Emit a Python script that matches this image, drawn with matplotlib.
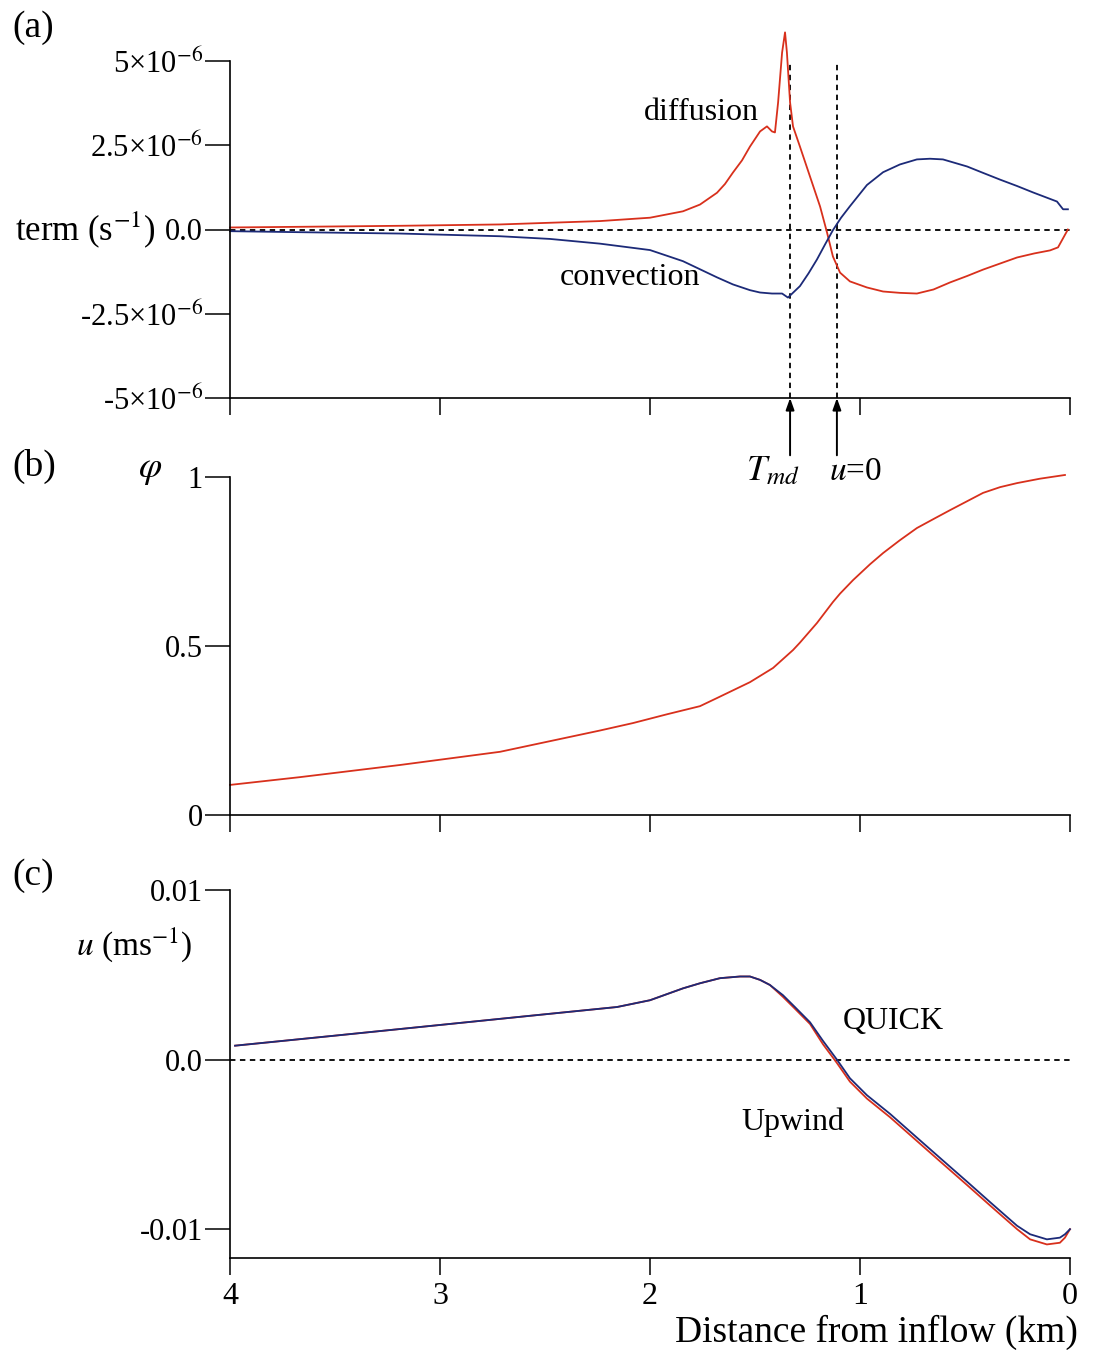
import matplotlib
matplotlib.use("Agg")
import matplotlib.pyplot as plt

plt.rcParams['font.family'] = ['Liberation Serif', 'DejaVu Serif']
plt.rcParams['mathtext.fontset'] = 'stix'
plt.rcParams['axes.unicode_minus'] = False

RED = '#d8301c'
BLUE = '#1c2a78'

# (a) source terms along the channel, units of 1e-6 s^-1
term_km = [4.0, 3.667, 3.19, 2.714, 2.238, 2.0, 1.843, 1.762, 1.681, 1.643, 1.605,
           1.562, 1.524, 1.476, 1.443, 1.419, 1.405, 1.39, 1.371, 1.357, 1.348,
           1.333, 1.319, 1.286, 1.238, 1.19, 1.157, 1.129, 1.095, 1.048, 0.967,
           0.89, 0.81, 0.729, 0.65, 0.571, 0.49, 0.414, 0.333, 0.252, 0.17,
           0.095, 0.057, 0.01]
diffusion = [0.06, 0.08, 0.11, 0.15, 0.25, 0.35, 0.54, 0.74, 1.09, 1.35, 1.69,
             2.05, 2.46, 2.91, 3.06, 2.91, 2.88, 3.77, 5.25, 5.85, 5.25,
             3.77, 3.06, 2.46, 1.57, 0.68, -0.09, -0.8, -1.28, -1.54, -1.72,
             -1.84, -1.88, -1.9, -1.78, -1.57, -1.38, -1.19, -1.01, -0.83, -0.71,
             -0.62, -0.53, 0.0]

conv_km = [4.0, 3.667, 3.19, 2.714, 2.476, 2.238, 2.0, 1.919, 1.843, 1.762, 1.681,
           1.605, 1.524, 1.476, 1.419, 1.371, 1.343, 1.286, 1.245, 1.205, 1.167,
           1.129, 1.09, 1.048, 0.967, 0.89, 0.81, 0.729, 0.667, 0.605, 0.49,
           0.414, 0.333, 0.252, 0.176, 0.062, 0.033, 0.01]
convection = [-0.05, -0.08, -0.12, -0.2, -0.28, -0.42, -0.61, -0.78, -0.94, -1.18, -1.42,
              -1.63, -1.8, -1.87, -1.9, -1.9, -2.02, -1.68, -1.3, -0.89, -0.45,
              -0.02, 0.35, 0.69, 1.32, 1.7, 1.93, 2.08, 2.1, 2.08, 1.87,
              1.68, 1.48, 1.29, 1.1, 0.83, 0.6, 0.6]

x_tmd = 1.333
x_u0 = 1.110

# (b) phi
phi_km = [4.0, 3.667, 3.19, 2.714, 2.238, 2.081, 1.919, 1.762, 1.681, 1.524, 1.414,
          1.319, 1.286, 1.205, 1.129, 1.095, 1.033, 0.952, 0.89, 0.81, 0.729,
          0.643, 0.571, 0.414, 0.333, 0.252, 0.143, 0.024]
phi = [0.089, 0.112, 0.148, 0.187, 0.25, 0.272, 0.298, 0.322, 0.346, 0.393, 0.435,
       0.488, 0.51, 0.568, 0.63, 0.655, 0.695, 0.742, 0.775, 0.813, 0.849,
       0.878, 0.902, 0.953, 0.97, 0.982, 0.995, 1.006]

# (c) velocity, two advection schemes
u_km = [3.976, 3.51, 3.033, 2.557, 2.157, 2.0, 1.843, 1.762, 1.667, 1.571, 1.524,
        1.476, 1.429, 1.367, 1.31, 1.238, 1.176, 1.11, 1.048, 0.967, 0.857,
        0.729, 0.619, 0.49, 0.381, 0.252, 0.19, 0.11, 0.048, 0.024, 0.0]
u_quick = [0.00082, 0.0014, 0.002, 0.0026, 0.0031, 0.0035, 0.0042, 0.0045, 0.0048,
           0.0049, 0.0049, 0.0047, 0.0044, 0.0038, 0.0031, 0.0022, 0.0011, 0.0,
           -0.0011, -0.0021, -0.0032, -0.0046, -0.0058, -0.0072, -0.0084, -0.0098,
           -0.0103, -0.0106, -0.0105, -0.0103, -0.0100]
u_upwind = [0.00082, 0.0014, 0.002, 0.0026, 0.0031, 0.0035, 0.0042, 0.0045, 0.0048,
            0.0049, 0.0049, 0.0047, 0.0044, 0.0037, 0.003, 0.0021, 0.0009, -0.0002,
            -0.0013, -0.0023, -0.0034, -0.0048, -0.006, -0.0074, -0.0086, -0.0100,
            -0.0106, -0.0109, -0.0108, -0.0105, -0.0100]

x_ticks = [4, 3, 2, 1, 0]
x_ticklabels = ['4', '3', '2', '1', '0']
a_ticks = [5e-6, 2.5e-6, 0, -2.5e-6, -5e-6]
a_ticklabels = [r'5×10$^{-6}$', r'2.5×10$^{-6}$', '0.0', r'-2.5×10$^{-6}$', r'-5×10$^{-6}$']
b_ticks = [0, 0.5, 1]
b_ticklabels = ['0', '0.5', '1']
c_ticks = [0.01, 0, -0.01]
c_ticklabels = ['0.01', '0.0', '-0.01']

W, H = 1094, 1350
fig = plt.figure(figsize=(W / 100, H / 100), dpi=100)


def px_axes(top, bottom, left=230, right=1070):
    return fig.add_axes([left / W, 1 - bottom / H, (right - left) / W, (bottom - top) / H])


def style(ax, show_xlabels=False):
    for s in ('top', 'right'):
        ax.spines[s].set_visible(False)
    for s in ('left', 'bottom'):
        ax.spines[s].set_linewidth(1.2)
    ax.set_xlim(4, 0)
    ax.set_xticks(x_ticks)
    ax.set_xticklabels(x_ticklabels if show_xlabels else [])
    ax.tick_params(axis='x', direction='out', length=12, width=1.1, labelsize=23, pad=5)
    ax.tick_params(axis='y', direction='out', length=18, width=1.1, labelsize=22, pad=1.5)
    ax.patch.set_alpha(0)


dash = dict(color='k', lw=1.3, ls=(0, (3, 2.5)))

# panel (a)
ax1 = px_axes(61, 398)
style(ax1)
ax1.set_ylim(-5e-6, 5e-6)
ax1.set_yticks(a_ticks)
ax1.set_yticklabels(a_ticklabels)
ax1.axhline(0, **dash)
ax1.plot([x_tmd, x_tmd], [-5e-6, 4.95e-6], **dash)
ax1.plot([x_u0, x_u0], [-5e-6, 4.95e-6], **dash)
ax1.plot(term_km, [v * 1e-6 for v in diffusion], color=RED, lw=1.3, clip_on=False)
ax1.plot(conv_km, [v * 1e-6 for v in convection], color=BLUE, lw=1.3, clip_on=False)
ax1.text(1.757, 3.26e-6, 'diffusion', fontsize=23, ha='center', va='baseline')
ax1.text(2.095, -1.66e-6, 'convection', fontsize=23, ha='center', va='baseline')
for xv in (x_tmd, x_u0):
    ax1.annotate('', xy=(xv, -5e-6), xytext=(xv, -6.7e-6),
                 arrowprops=dict(arrowstyle='-|>,head_length=0.7,head_width=0.25',
                                 color='k', lw=1.4, shrinkA=0, shrinkB=0),
                 annotation_clip=False)
ax1.text(1.414, -7.2e-6, r'$T_{md}$', fontsize=26, ha='center', va='center')
ax1.text(1.024, -7.2e-6, r'$u$=0', fontsize=24, ha='center', va='center')

# panel (b)
ax2 = px_axes(477, 815)
style(ax2)
ax2.set_ylim(0, 1)
ax2.set_yticks(b_ticks)
ax2.set_yticklabels(b_ticklabels)
ax2.plot(phi_km, phi, color=RED, lw=1.3, clip_on=False)

# panel (c)
ax3 = px_axes(890, 1258)
style(ax3, show_xlabels=True)
ax3.set_ylim(-0.0117, 0.01)
ax3.set_yticks(c_ticks)
ax3.set_yticklabels(c_ticklabels)
ax3.plot([4, 0], [0, 0], **dash)
ax3.plot(u_km, u_upwind, color=RED, lw=1.3, clip_on=False)
ax3.plot(u_km, u_quick, color=BLUE, lw=1.3, clip_on=False)
ax3.text(0.843, 0.00182, 'QUICK', fontsize=23, ha='center', va='baseline')
ax3.text(1.319, -0.00416, 'Upwind', fontsize=23, ha='center', va='baseline')

# panel letters and axis titles
fig.text(12 / W, 1 - 28 / H, '(a)', fontsize=27, ha='left', va='center')
fig.text(12 / W, 1 - 466 / H, '(b)', fontsize=27, ha='left', va='center')
fig.text(12 / W, 1 - 876 / H, '(c)', fontsize=27, ha='left', va='center')
fig.text(155 / W, 1 - 230 / H, r'term (s$^{-1}$)', fontsize=25, ha='right', va='center')
fig.text(150 / W, 1 - 470 / H, r'$\varphi$', fontsize=27, ha='center', va='center')
fig.text(192 / W, 1 - 945 / H, r'$u$ (ms$^{-1}$)', fontsize=24, ha='right', va='center')
fig.text(1078 / W, 1 - 1332 / H, 'Distance from inflow (km)', fontsize=27,
         ha='right', va='center')

fig.savefig('out.png', dpi=100, facecolor='white')
